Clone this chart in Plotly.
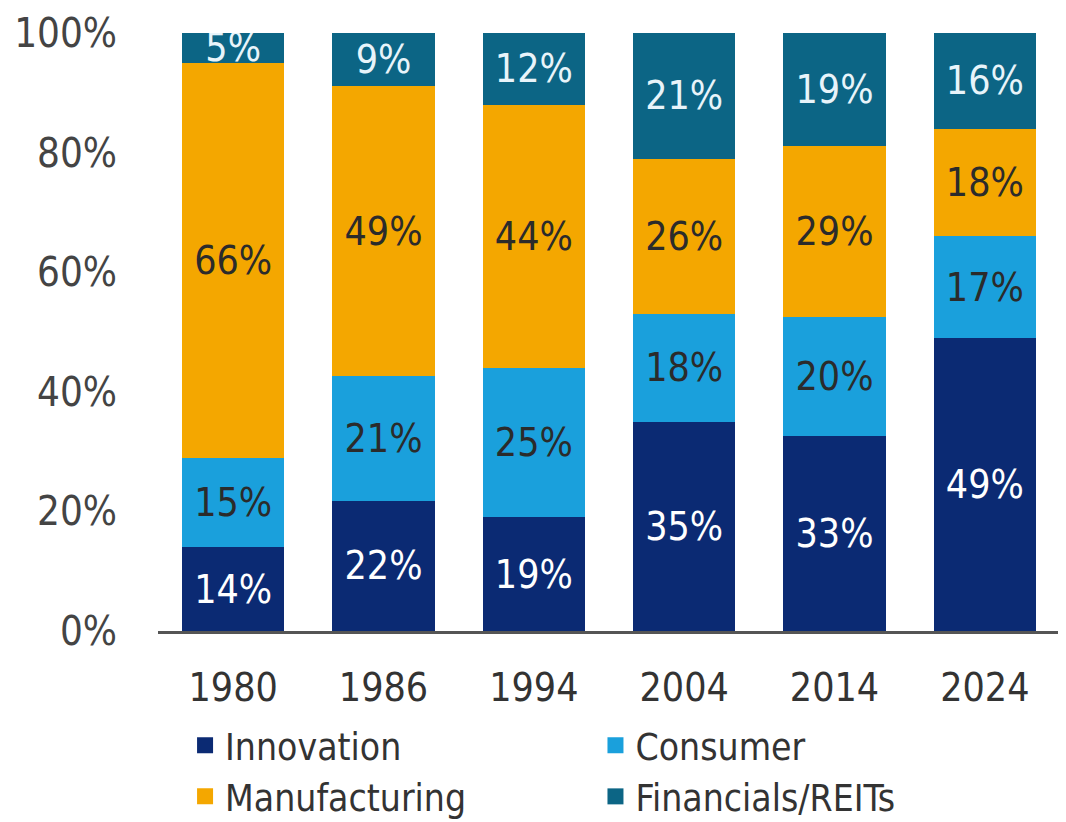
import plotly.graph_objects as go

years = ["1980", "1986", "1994", "2004", "2014", "2024"]
innovation = [14, 22, 19, 35, 33, 49]
consumer = [15, 21, 25, 18, 20, 17]
manufacturing = [66, 49, 44, 26, 29, 18]
financials = [5, 9, 12, 21, 19, 16]
y_ticks = [0, 20, 40, 60, 80, 100]
y_tick_labels = ["0%", "20%", "40%", "60%", "80%", "100%"]

FONT = "DejaVu Sans Condensed, Liberation Sans Narrow, sans-serif"
series = [
    ("Innovation", innovation, "#0b2a73", "#ffffff"),
    ("Consumer", consumer, "#1aa0dc", "#2b2b2b"),
    ("Manufacturing", manufacturing, "#f4a700", "#2b2b2b"),
    ("Financials/REITs", financials, "#0c6585", "#e8f4fa"),
]

fig = go.Figure()
for name, vals, color, tcolor in series:
    fig.add_trace(go.Bar(
        x=years, y=vals, name=name, showlegend=False,
        marker=dict(color=color, line=dict(width=0)),
        text=[f"{v}%" for v in vals],
        textposition="inside", insidetextanchor="middle",
        textangle=0, constraintext="none",
        textfont=dict(family=FONT, size=39, color=tcolor),
        hoverinfo="skip",
    ))
# legend entries with larger square swatches
for name, vals, color, tcolor in series:
    fig.add_trace(go.Scatter(
        x=[None], y=[None], name=name, mode="markers",
        marker=dict(symbol="square", size=22, color=color),
        hoverinfo="skip",
    ))

fig.update_layout(
    barmode="stack", barnorm="percent", bargap=0.32,
    width=1058, height=814,
    margin=dict(l=150, r=6, t=25, b=191, autoexpand=False),
    paper_bgcolor="white", plot_bgcolor="white",
    font=dict(family=FONT, size=39, color="#333333"),
    showlegend=True,
    legend=dict(orientation="h", x=0.03, y=-0.14, xanchor="left", yanchor="top",
                entrywidth=0.455, entrywidthmode="fraction", traceorder="normal",
                font=dict(family=FONT, size=37, color="#333333"),
                itemsizing="trace", tracegroupgap=0, itemwidth=30),
)
fig.update_yaxes(range=[0, 100], tickvals=y_ticks, ticktext=y_tick_labels,
                 showgrid=False, zeroline=False, showline=False,
                 ticklabelstandoff=40, tickfont=dict(size=40, color="#444444"))
fig.update_xaxes(showline=True, linecolor="#555555", linewidth=3, showgrid=False,
                 ticks="", ticklabelstandoff=20, tickfont=dict(size=39, color="#333333"))

fig.write_html("out.html")
